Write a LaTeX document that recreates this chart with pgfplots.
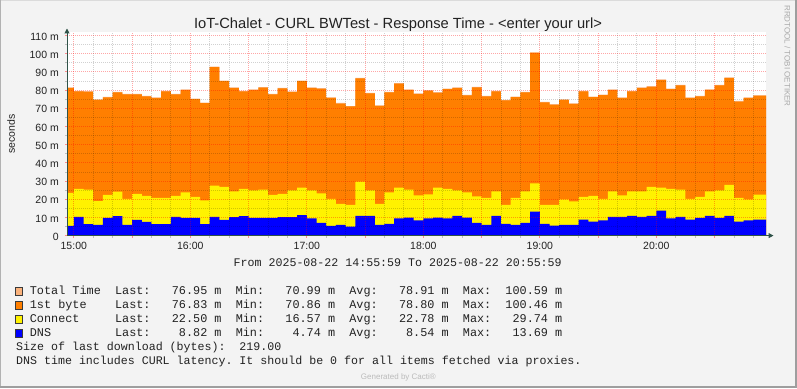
\documentclass[border=0pt]{standalone}
\usepackage{fontspec}
\setmainfont{Liberation Sans}
\newfontfamily\monofont{Liberation Mono}
\usepackage{pgfplots}
\usepackage{pgfplotstable}
\pgfplotsset{compat=1.18}
\usetikzlibrary{arrows.meta}

\definecolor{bgcol}{HTML}{F3F3F3}
\definecolor{totalcol}{HTML}{FAB27C}
\definecolor{firstcol}{HTML}{FF7F00}
\definecolor{conncol}{HTML}{FFF200}
\definecolor{dnscol}{HTML}{0000FF}
\definecolor{axiscol}{HTML}{2F5248}
\definecolor{txtcol}{HTML}{222222}
\definecolor{wmcol}{HTML}{AAAAAA}
\definecolor{gencol}{HTML}{BBBBBB}
\definecolor{swborder}{HTML}{3A3A3A}

\pgfplotstableread{
x total first connect dns
-3.5 81.4 81.1 23.5 5.3
0 79.5 79.2 25.7 10.3
5 79.4 79.0 25.2 6.25
10 74.9 74.6 18.9 5.9
15 76.2 75.9 22.4 9.7
20 79.0 78.7 24.1 10.7
25 77.9 77.6 20.2 5.9
30 77.9 77.6 23.0 8.6
35 76.8 76.5 21.9 7.5
40 75.9 75.6 20.8 6.25
45 79.5 79.2 20.8 6.25
50 77.9 77.6 21.9 10.3
55 80.3 80.0 23.7 9.7
60 75.3 75.0 21.3 9.7
65 73.1 72.8 19.3 6.25
70 92.9 92.6 27.4 10.3
75 85.2 84.9 26.8 8.6
80 81.4 81.1 24.3 10.1
85 79.5 79.2 25.7 10.7
90 80.3 80.0 24.8 9.7
95 81.6 81.3 25.2 9.7
100 77.9 77.6 22.4 9.7
105 81.2 80.9 23.0 10.1
110 79.2 78.9 24.8 10.1
115 85.2 84.9 26.3 11.3
120 81.4 81.1 24.8 9.4
125 81.0 80.7 23.2 7.0
130 76.0 75.7 20.2 5.3
135 72.9 72.6 17.5 5.9
140 71.1 71.0 16.9 5.0
145 86.7 86.4 29.6 10.8
150 78.4 78.1 24.8 10.8
155 71.6 71.3 17.5 5.9
160 79.0 78.7 23.7 6.4
165 83.8 83.5 26.3 9.4
170 80.3 80.0 25.2 9.9
175 78.1 77.8 22.1 8.3
180 79.9 79.6 22.6 9.4
185 78.8 78.5 26.3 9.9
190 80.8 80.5 25.7 9.4
195 81.4 81.1 24.8 10.8
200 77.3 77.0 23.7 9.9
205 81.7 81.4 21.5 7.0
210 76.8 76.5 20.8 5.9
215 79.5 79.2 24.3 10.8
220 74.6 74.3 16.9 6.4
225 76.4 76.1 20.8 5.9
230 79.0 78.7 24.3 7.0
235 100.6 100.5 28.7 13.2
240 73.5 73.2 16.9 6.4
245 72.2 71.9 16.9 5.5
250 74.9 74.6 19.9 5.9
255 72.7 72.4 18.75 5.9
260 79.5 79.2 21.3 8.8
265 76.4 76.1 21.9 7.7
270 77.5 77.2 20.2 8.3
275 80.3 80.0 24.3 10.3
280 75.9 75.6 22.1 10.3
285 79.5 79.2 24.3 10.8
290 81.4 81.1 24.3 10.3
295 82.1 81.8 26.8 10.8
300 85.8 85.5 26.3 13.7
305 80.8 80.5 25.7 9.4
310 82.8 82.5 25.2 10.3
315 75.9 75.6 20.2 8.8
320 76.8 76.5 21.3 9.7
325 80.4 80.1 24.3 10.8
330 82.8 82.5 24.8 9.7
335 86.9 86.6 27.9 10.8
340 74.0 73.7 20.8 7.7
345 75.9 75.6 19.9 8.3
350 77.0 76.9 22.5 8.8
356.5 77.0 76.9 22.5 8.8
}\data

\begin{document}
\begin{tikzpicture}[x=1pt,y=1pt]
\useasboundingbox (0,0) rectangle (797,388);
\fill[bgcol] (0,0) rectangle (797,388);
\draw[color=black!14, line width=1pt] (0,387.5) -- (797,387.5);
\draw[color=black!30, line width=1pt] (0.5,0) -- (0.5,388);
\draw[color=black!38, line width=2pt] (0,1) -- (796,1) -- (796,388);

\begin{axis}[
  at={(67pt,152.4pt)}, anchor=south west,
  scale only axis, width=699pt, height=203.6pt,
  xmin=-3.5, xmax=356.5, ymin=0, ymax=111.9,
  axis lines=left, axis on top,
  axis background/.style={fill=white},
  axis line style={draw=axiscol, line width=1pt},
  x axis line style={-{Triangle[length=5pt,width=5pt]}, shorten >=-7.5pt},
  y axis line style={-{Triangle[length=5pt,width=5pt]}, shorten >=-3.5pt},
  xtick={0,30,...,330},
  xticklabels={15:00,,16:00,,17:00,,18:00,,19:00,,20:00,},
  minor xtick={10,20,40,50,70,80,100,110,130,140,160,170,190,200,220,230,250,260,280,290,310,320,340,350},
  ytick={0,10,...,110},
  yticklabels={0,10 m,20 m,30 m,40 m,50 m,60 m,70 m,80 m,90 m,100 m,110 m},
  minor ytick={5,15,...,105},
  grid=both,
  major grid style={draw=red, draw opacity=0.35, line width=0.8pt, dash pattern=on 1pt off 1pt},
  minor grid style={draw=black, draw opacity=0.18, line width=0.8pt, dash pattern=on 1pt off 1pt},
  tick align=outside,
  major tick length=2pt, minor tick length=2pt,
  major tick style={draw=red!45, line width=0.8pt},
  minor tick style={draw=black!25, line width=0.8pt},
  tick label style={font=\fontsize{10.5}{12}\selectfont, text=txtcol},
  yticklabel style={anchor=east, inner sep=0pt, xshift=-6pt, yshift=-1pt},
  xticklabel style={anchor=north, inner sep=0pt, yshift=-4pt},
  ylabel={seconds},
  every axis y label/.style={at={(axis description cs:-0.0801,0.5)}, rotate=90, anchor=center, font=\fontsize{10.5}{12}\selectfont, text=txtcol},
]
\addplot[fill=totalcol, draw=none, const plot] table[x=x,y=total] {\data} \closedcycle;
\addplot[fill=firstcol, draw=none, const plot] table[x=x,y=first] {\data} \closedcycle;
\addplot[fill=conncol, draw=none, const plot] table[x=x,y=connect] {\data} \closedcycle;
\addplot[fill=dnscol, draw=none, const plot] table[x=x,y=dns] {\data} \closedcycle;
\end{axis}

\node[anchor=base, inner sep=0pt, font=\fontsize{14.7}{17}\selectfont, text=txtcol] at (398,359.7) {IoT-Chalet - CURL BWTest - Response Time - <enter your url>};
\node[rotate=-90, inner sep=0pt, font=\fontsize{8}{9}\selectfont, text=wmcol] at (787.5,332) {RRDTOOL / TOBI OETIKER};
\node[inner sep=0pt, font=\fontsize{8}{9}\selectfont, text=gencol] at (398.4,11) {Generated by Cacti®};

\begin{scope}[every node/.style={anchor=base west, inner sep=0pt, text=txtcol}]
\node[font=\monofont\fontsize{11.63}{13}\selectfont] at (233.5,121.5) {From\ 2025-08-22\ 14:55:59\ To\ 2025-08-22\ 20:55:59};
\node[font=\monofont\fontsize{11.83}{13}\selectfont] at (29.7,93.7) {Total\ Time\ \ Last:\ \ \ 76.95\ m\ \ Min:\ \ \ 70.99\ m\ \ Avg:\ \ \ 78.91\ m\ \ Max:\ \ 100.59\ m};
\node[font=\monofont\fontsize{11.83}{13}\selectfont] at (29.7,79.7) {1st\ byte\ \ \ \ Last:\ \ \ 76.83\ m\ \ Min:\ \ \ 70.86\ m\ \ Avg:\ \ \ 78.80\ m\ \ Max:\ \ 100.46\ m};
\node[font=\monofont\fontsize{11.83}{13}\selectfont] at (29.7,65.7) {Connect\ \ \ \ \ Last:\ \ \ 22.50\ m\ \ Min:\ \ \ 16.57\ m\ \ Avg:\ \ \ 22.78\ m\ \ Max:\ \ \ 29.74\ m};
\node[font=\monofont\fontsize{11.83}{13}\selectfont] at (29.7,51.7) {DNS\ \ \ \ \ \ \ \ \ Last:\ \ \ \ 8.82\ m\ \ Min:\ \ \ \ 4.74\ m\ \ Avg:\ \ \ \ 8.54\ m\ \ Max:\ \ \ 13.69\ m};
\node[font=\monofont\fontsize{11.63}{13}\selectfont] at (16,37.7) {Size\ of\ last\ download\ (bytes):\ \ 219.00};
\node[font=\monofont\fontsize{11.63}{13}\selectfont] at (16,24) {DNS\ time\ includes\ CURL\ latency.\ It\ should\ be\ 0\ for\ all\ items\ fetched\ via\ proxies.};
\end{scope}

\filldraw[fill=totalcol, draw=swborder, line width=1pt] (15.8,92) rectangle (22.8,100.5);
\filldraw[fill=firstcol, draw=swborder, line width=1pt] (15.8,78) rectangle (22.8,86.5);
\filldraw[fill=conncol, draw=swborder, line width=1pt] (15.8,64) rectangle (22.8,72.5);
\filldraw[fill=dnscol, draw=swborder, line width=1pt] (15.8,50) rectangle (22.8,58.5);
\end{tikzpicture}
\end{document}
